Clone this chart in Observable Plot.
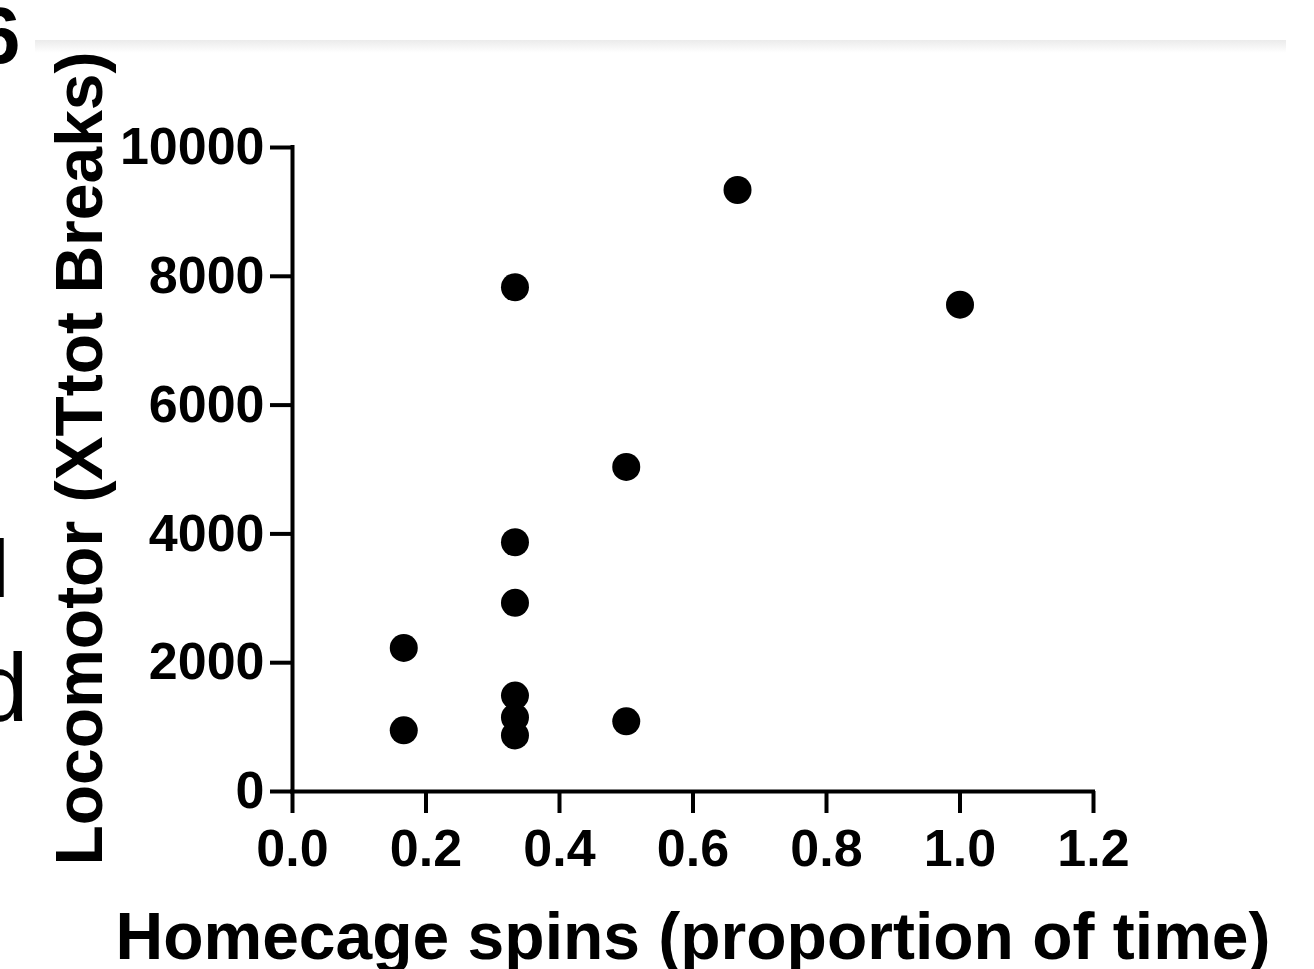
<!DOCTYPE html>
<html>
<head>
<meta charset="utf-8">
<script src="https://cdn.jsdelivr.net/npm/d3@7"></script>
<script src="https://cdn.jsdelivr.net/npm/@observablehq/plot@0.6"></script>
<style>
  html, body { margin: 0; padding: 0; background: #fff; }
  #wrap { position: relative; width: 1314px; height: 969px; overflow: hidden; background: #fff; }
  #chart { position: absolute; left: 0; top: 0; }
  .frag { position: absolute; font-family: "Liberation Sans", Arial, sans-serif; color: #000; line-height: 1; white-space: nowrap; }
  #topline { position: absolute; left: 35px; top: 40px; width: 1251px; height: 13px; background: linear-gradient(#ebebeb, #ffffff); }
</style>
</head>
<body>
<div id="wrap">
  <div id="topline"></div>
  <div id="chart"></div>
  <div class="frag" style="left:-24px; top:-4px; font-size:80px; font-weight:bold;">6</div>
  <div class="frag" style="left:-9px; top:528px; font-size:82px;">l</div>
  <div class="frag" style="left:-25px; top:640px; font-size:96px;">d</div>
</div>
<script>
// Data
const spins  = [0.1667, 0.1667, 0.3333, 0.3333, 0.3333, 0.3333, 0.3333, 0.3333, 0.5, 0.5, 0.6667, 1.0];
const breaks = [950, 2230, 7830, 3870, 2930, 1490, 1150, 870, 5040, 1090, 9340, 7560];
const xTicks = [0, 0.2, 0.4, 0.6, 0.8, 1.0, 1.2];
const yTicks = [0, 2000, 4000, 6000, 8000, 10000];
const xLabel = "Homecage spins (proportion of time)";
const yLabel = "Locomotor (XTtot Breaks)";

const points = spins.map((s, i) => ({spins: s, breaks: breaks[i]}));

const plot = Plot.plot({
  width: 1314,
  height: 969,
  marginLeft: 292,
  marginRight: 221,
  marginTop: 147,
  marginBottom: 178,
  style: {fontFamily: "'Liberation Sans', Arial, sans-serif", fontWeight: "bold", background: "transparent", color: "#000"},
  x: {domain: [0, 1.2]},
  y: {domain: [0, 10000]},
  marks: [
    Plot.ruleX([0], {y1: 0, y2: 10000, stroke: "#000", strokeWidth: 4, strokeLinecap: "square"}),
    Plot.ruleY([0], {x1: 0, x2: 1.2, stroke: "#000", strokeWidth: 4, strokeLinecap: "square"}),
    Plot.axisX({ticks: xTicks, tickSize: 22, tickPadding: 16, strokeWidth: 4, fontSize: 52,
      tickFormat: d3.format(".1f"), label: null}),
    Plot.axisY({ticks: yTicks, tickSize: 22, tickPadding: 6, strokeWidth: 4, fontSize: 52,
      tickFormat: d3.format("d"), label: null}),
    Plot.dot(points, {x: "spins", y: "breaks", r: 14, fill: "#000", stroke: null}),
    Plot.text([xLabel], {frameAnchor: "bottom", dy: 146, lineAnchor: "middle", textAnchor: "middle", fontSize: 66, fontWeight: "bold", text: d => d}),
    Plot.text([yLabel], {frameAnchor: "left", dx: -212, dy: -11, rotate: -90, lineAnchor: "middle", textAnchor: "middle", fontSize: 66, fontWeight: "bold", text: d => d})
  ]
});
document.getElementById("chart").appendChild(plot);
</script>
</body>
</html>
